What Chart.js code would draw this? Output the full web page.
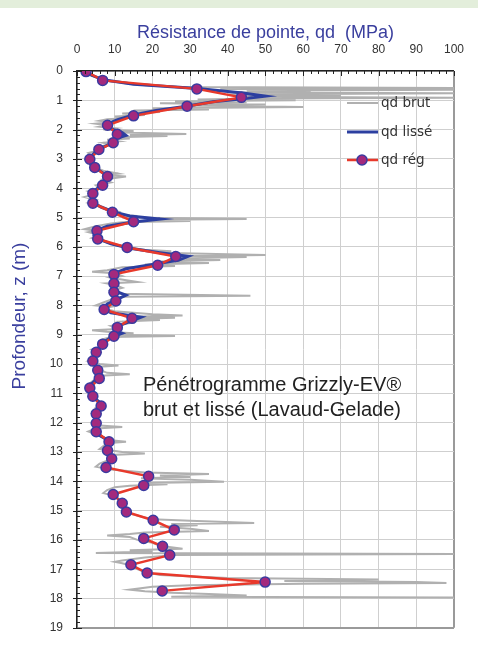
<!DOCTYPE html>
<html>
<head>
<meta charset="utf-8">
<script src="https://cdn.jsdelivr.net/npm/chart.js@4"></script>
<style>
  html, body { margin: 0; padding: 0; background: #fff; }
  #wrap { width: 478px; height: 649px; position: relative; }
</style>
</head>
<body>
<div id="wrap"><canvas id="penetro-chart"></canvas></div>
<script>
// qd brut : raw penetrometer readings (depth m / qd MPa)
const brutDepth = [
  0, 0.05, 0.1, 0.15, 0.2, 0.25, 0.3, 0.35, 0.4, 0.45,
  0.5, 0.55, 0.58, 0.61, 0.64, 0.67, 0.7, 0.73, 0.76, 0.79,
  0.82, 0.85, 0.88, 0.91, 0.94, 0.97, 1.0, 1.03, 1.07, 1.1,
  1.14, 1.18, 1.23, 1.27, 1.31, 1.35, 1.4, 1.45, 1.5, 1.55,
  1.6, 1.65, 1.7, 1.75, 1.8, 1.85, 1.9, 1.95, 2.0, 2.05,
  2.1, 2.15, 2.18, 2.22, 2.26, 2.3, 2.35, 2.4, 2.45, 2.5,
  2.6, 2.7, 2.8, 2.9, 3.0, 3.1, 3.2, 3.3, 3.4, 3.5,
  3.55, 3.6, 3.7, 3.8, 3.9, 4.0, 4.1, 4.2, 4.3, 4.4,
  4.5, 4.6, 4.7, 4.8, 4.9, 4.95, 5.0, 5.05, 5.08, 5.12,
  5.16, 5.2, 5.3, 5.4, 5.45, 5.5, 5.6, 5.7, 5.8, 5.9,
  6.0, 6.1, 6.15, 6.2, 6.25, 6.28, 6.31, 6.35, 6.4, 6.45,
  6.5, 6.55, 6.6, 6.65, 6.7, 6.8, 6.85, 6.9, 7.0, 7.05,
  7.1, 7.2, 7.25, 7.3, 7.4, 7.5, 7.6, 7.67, 7.7, 7.8,
  7.9, 8.0, 8.05, 8.1, 8.2, 8.3, 8.34, 8.38, 8.42, 8.46,
  8.5, 8.55, 8.6, 8.7, 8.8, 8.85, 8.9, 8.95, 9.0, 9.04,
  9.08, 9.15, 9.2, 9.3, 9.4, 9.5, 9.6, 9.7, 9.8, 9.9,
  10.0, 10.05, 10.1, 10.2, 10.3, 10.35, 10.4, 10.5, 10.6, 10.7,
  10.8, 10.9, 11.0, 11.1, 11.2, 11.3, 11.4, 11.5, 11.6, 11.7,
  11.8, 11.9, 12.0, 12.1, 12.15, 12.2, 12.3, 12.4, 12.5, 12.6,
  12.65, 12.7, 12.8, 12.9, 13.0, 13.05, 13.1, 13.2, 13.3, 13.4,
  13.5, 13.6, 13.7, 13.75, 13.8, 13.85, 13.9, 13.95, 14.02, 14.06,
  14.1, 14.15, 14.2, 14.3, 14.4, 14.5, 14.6, 14.7, 14.8, 14.9,
  15.0, 15.1, 15.2, 15.3, 15.35, 15.42, 15.46, 15.5, 15.55, 15.62,
  15.7, 15.75, 15.8, 15.85, 15.9, 16.0, 16.1, 16.2, 16.3, 16.35,
  16.4, 16.45, 16.48, 16.52, 16.6, 16.7, 16.75, 16.8, 16.9, 17.0,
  17.1, 17.2, 17.3, 17.35, 17.4, 17.44, 17.47, 17.5, 17.55, 17.6,
  17.7, 17.75, 17.8, 17.85, 17.9, 17.94, 17.97
];
const brutQd = [
  1, 2, 3, 3.5, 5, 6, 6.5, 9, 12, 15,
  20, 28, 100, 38, 100, 45, 62, 40, 100, 50,
  40, 70, 42, 100, 48, 32, 58, 26, 45, 22,
  50, 28, 60, 20, 35, 15, 22, 12, 18, 10,
  14, 8, 6, 9, 5, 8, 6, 10, 7, 15,
  12, 29, 14, 24, 10, 14, 8, 11, 7, 9,
  5, 6, 3, 4, 2.5, 4, 3.5, 5, 7, 11,
  7, 13, 7, 9, 5, 6, 3, 5, 2, 5,
  3, 6, 8, 11, 9, 16, 12, 45, 20, 30,
  12, 9, 5, 2, 5, 3, 6, 4, 7, 9,
  12, 18, 25, 22, 40, 50, 30, 45, 25, 38,
  22, 35, 18, 26, 12, 8, 4, 10, 12, 9,
  11, 16, 8, 10, 12, 9, 11, 46, 12, 9,
  7, 5, 9, 7, 10, 20, 28, 16, 26, 14,
  22, 12, 14, 9, 11, 4, 8, 15, 10, 26,
  9, 7, 8, 6, 7, 4, 6, 4, 5, 3,
  6, 11, 5, 6, 8, 14, 6, 5, 4, 3,
  3.5, 3, 5, 4, 4.5, 6, 7, 5, 6, 4,
  5, 5, 4, 6, 12, 5, 3, 5, 7, 9,
  13, 8, 7, 6, 12, 18, 9, 10, 8, 6,
  5, 9, 18, 35, 22, 30, 17, 30, 39, 18,
  24, 14, 10, 8, 7, 10, 11, 13, 12, 13,
  12, 14, 17, 20, 30, 47, 25, 32, 22, 30,
  35, 18, 14, 8, 14, 16, 20, 22, 28, 14,
  20, 5, 100, 26, 18, 12, 10, 12, 15, 16,
  18, 22, 40, 80, 55, 90, 98, 60, 30, 20,
  14, 18, 25, 35, 45, 25, 100
];

// qd lissé : smoothed profile
const lisseDepth = [
  0, 0.15, 0.3, 0.45, 0.6, 0.75, 0.86, 0.95, 1.05, 1.2,
  1.35, 1.5, 1.65, 1.8, 1.95, 2.1, 2.2, 2.3, 2.45, 2.6,
  2.75, 2.9, 3.0, 3.15, 3.3, 3.45, 3.6, 3.75, 3.9, 4.05,
  4.2, 4.35, 4.5, 4.65, 4.8, 4.95, 5.05, 5.15, 5.3, 5.45,
  5.6, 5.75, 5.9, 6.05, 6.2, 6.32, 6.45, 6.6, 6.75, 6.9,
  7.05, 7.2, 7.35, 7.5, 7.65, 7.8, 7.95, 8.1, 8.25, 8.4,
  8.55, 8.7, 8.85, 8.95, 9.1, 9.25, 9.4, 9.55, 9.7, 9.85,
  10.0, 10.15, 10.3, 10.45, 10.6, 10.75, 10.9, 11.05, 11.2, 11.35,
  11.5, 11.65, 11.8, 11.95, 12.1, 12.25, 12.4, 12.55, 12.7, 12.85,
  13.0, 13.15, 13.3, 13.45, 13.55
];
const lisseQd = [
  2, 4, 7, 15, 32, 44, 50, 44, 36, 29,
  21, 15, 11, 8, 8.5, 12, 13, 10.5, 9.5, 7,
  5, 3.8, 3.2, 4, 5, 6.5, 8.5, 8, 6.5, 5,
  4, 3.8, 4.3, 6.5, 9.5, 14, 22, 15, 8, 5,
  4.5, 6, 9, 14, 22, 29.5, 27, 20, 13, 10,
  9.5, 10, 9.5, 10, 13, 10.5, 8, 7, 9, 17,
  14, 11, 10, 12, 9, 7, 6, 5, 4.5, 4.2,
  4.5, 5.5, 6.5, 5.5, 4.5, 3.2, 3.5, 4.2, 5, 6.5,
  6, 5, 5, 5.2, 4.8, 5, 5.5, 7.5, 8.5, 8,
  8.3, 9.3, 9, 7.8, 7.6
];

// qd rég : regularised profile (markers)
const regDepth = [
  0.02, 0.32, 0.61, 0.9, 1.2, 1.53, 1.85, 2.16, 2.45, 2.68,
  3.01, 3.29, 3.6, 3.9, 4.18, 4.51, 4.82, 5.14, 5.45, 5.73,
  6.02, 6.33, 6.63, 6.94, 7.25, 7.55, 7.85, 8.14, 8.44, 8.75,
  9.05, 9.32, 9.6, 9.9, 10.21, 10.49, 10.82, 11.1, 11.43, 11.7,
  12.02, 12.31, 12.65, 12.95, 13.23, 13.53, 13.83, 14.14, 14.45, 14.75,
  15.05, 15.33, 15.66, 15.95, 16.22, 16.52, 16.85, 17.13, 17.44, 17.74
];
const regQd = [
  2.4, 6.8, 31.8, 43.6, 29.2, 15, 8.1, 10.7, 9.6, 5.8,
  3.4, 4.7, 8.1, 6.8, 4.2, 4.2, 9.4, 15, 5.3, 5.5,
  13.3, 26.2, 21.4, 9.8, 9.8, 9.8, 10.3, 7.2, 14.6, 10.7,
  9.8, 6.8, 5.1, 4.2, 5.5, 5.9, 3.4, 4.2, 6.4, 5.1,
  5.1, 5.1, 8.5, 8.1, 9.2, 7.7, 19, 17.7, 9.6, 12,
  13.1, 20.2, 25.8, 17.7, 22.7, 24.6, 14.3, 18.6, 49.9, 22.6
];

const qdMax = 100;
const depthMax = 19;

const toPoints = (depths, values) => depths.map((z, i) => ({ x: values[i], y: z }));

const FONT = '"Liberation Sans", Arial, sans-serif';
const BLUE_TXT = "#3a3f9e";

// white page with the pale green strip on top
const background = {
  id: "background",
  beforeDraw(chart) {
    const c = chart.ctx;
    c.save();
    c.fillStyle = "#ffffff";
    c.fillRect(0, 0, chart.width, chart.height);
    c.fillStyle = "#e3eedb";
    c.fillRect(0, 0, chart.width, 8);
    c.restore();
  },
};

// small tick marks on top and left axes
const minorTicks = {
  id: "minorTicks",
  afterDraw(chart) {
    const c = chart.ctx;
    const xs = chart.scales.x;
    const ys = chart.scales.y;
    const a = chart.chartArea;
    c.save();
    c.strokeStyle = "#222";
    c.lineWidth = 1;
    c.beginPath();
    for (let v = 0; v <= qdMax; v += 2) {
      const px = Math.round(xs.getPixelForValue(v)) + 0.5;
      c.moveTo(px, a.top);
      c.lineTo(px, a.top + (v % 10 === 0 ? 5 : 3));
    }
    for (let i = 0; i <= depthMax * 5; i++) {
      const py = Math.round(ys.getPixelForValue(i / 5)) + 0.5;
      if (i % 5 === 0) {
        c.moveTo(a.left - 4, py);
        c.lineTo(a.left + 5, py);
      } else {
        c.moveTo(a.left, py);
        c.lineTo(a.left + 3, py);
      }
    }
    c.stroke();
    c.restore();
  },
};

// y title, legend box and text note
const overlay = {
  id: "overlay",
  afterDraw(chart) {
    const c = chart.ctx;
    c.save();
    // axis title
    c.translate(20, 316);
    c.rotate(-Math.PI / 2);
    c.fillStyle = BLUE_TXT;
    c.font = "19px " + FONT;
    c.textAlign = "center";
    c.textBaseline = "middle";
    c.fillText("Profondeur, z (m)", 0, 0);
    c.restore();

    c.save();
    c.font = '13.5px "DejaVu Sans", sans-serif';
    c.textBaseline = "middle";
    c.fillStyle = "#333";
    const items = [
      { y: 103, text: "qd brut", color: "#b0b0b0", w: 2, dot: false },
      { y: 132, text: "qd lissé", color: "#2c3fa0", w: 3, dot: false },
      { y: 160, text: "qd rég", color: "#e8392b", w: 2.5, dot: true },
    ];
    items.forEach((it) => {
      c.strokeStyle = it.color;
      c.lineWidth = it.w;
      c.beginPath();
      c.moveTo(347, it.y);
      c.lineTo(378, it.y);
      c.stroke();
      if (it.dot) {
        c.beginPath();
        c.arc(362, it.y, 5, 0, Math.PI * 2);
        c.fillStyle = "#a3297d";
        c.fill();
        c.lineWidth = 1.5;
        c.strokeStyle = "#3a3aa0";
        c.stroke();
      }
      c.fillStyle = "#333";
      c.fillText(it.text, 381, it.y);
    });

    c.font = "20px " + FONT;
    c.fillStyle = "#222";
    c.fillText("Pénétrogramme Grizzly-EV®", 143, 385);
    c.fillText("brut et lissé (Lavaud-Gelade)", 143, 410);
    c.restore();
  },
};

const ctx = document.getElementById("penetro-chart").getContext("2d");

new Chart(ctx, {
  type: "scatter",
  data: {
    datasets: [
      {
        label: "qd brut",
        data: toPoints(brutDepth, brutQd),
        showLine: true,
        borderColor: "#b0b0b0",
        borderWidth: 2,
        pointRadius: 0,
        order: 3,
      },
      {
        label: "qd lissé",
        data: toPoints(lisseDepth, lisseQd),
        showLine: true,
        borderColor: "#2c3fa0",
        borderWidth: 3,
        pointRadius: 0,
        order: 2,
      },
      {
        label: "qd rég",
        data: toPoints(regDepth, regQd),
        showLine: true,
        borderColor: "#e8392b",
        borderWidth: 2.5,
        pointRadius: 5,
        pointBackgroundColor: "#a3297d",
        pointBorderColor: "#3a3aa0",
        pointBorderWidth: 1.5,
        order: 1,
      },
    ],
  },
  options: {
    responsive: true,
    maintainAspectRatio: false,
    animation: false,
    layout: {
      padding: { left: 0, right: 14, top: 22, bottom: 6 },
    },
    plugins: {
      legend: { display: false },
      tooltip: { enabled: false },
    },
    scales: {
      x: {
        type: "linear",
        position: "top",
        min: 0,
        max: qdMax,
        afterFit: (s) => { s.height = 49; },
        title: {
          display: true,
          text: "Résistance de pointe, qd  (MPa)",
          color: BLUE_TXT,
          font: { family: FONT, size: 18 },
          padding: { top: 0, bottom: 0 },
        },
        ticks: {
          stepSize: 10,
          color: "#333",
          padding: 14,
          font: { family: FONT, size: 12 },
        },
        grid: {
          drawTicks: false,
          color: (c) => (c.tick && c.tick.value === qdMax ? "#9a9a9a" : "#cfcfcf"),
          lineWidth: (c) => (c.tick && c.tick.value === qdMax ? 2 : 1),
        },
        border: { color: "#222", width: 1.5 },
      },
      y: {
        type: "linear",
        reverse: true,
        min: 0,
        max: depthMax,
        afterFit: (s) => { s.width = 77; },
        ticks: {
          stepSize: 1,
          color: "#333",
          padding: 14,
          font: { family: FONT, size: 12 },
        },
        grid: {
          drawTicks: false,
          color: (c) => (c.tick && c.tick.value === depthMax ? "#9a9a9a" : "#cfcfcf"),
          lineWidth: (c) => (c.tick && c.tick.value === depthMax ? 2 : 1),
        },
        border: { color: "#222", width: 1.5 },
      },
    },
  },
  plugins: [background, minorTicks, overlay],
});
</script>
</body>
</html>
